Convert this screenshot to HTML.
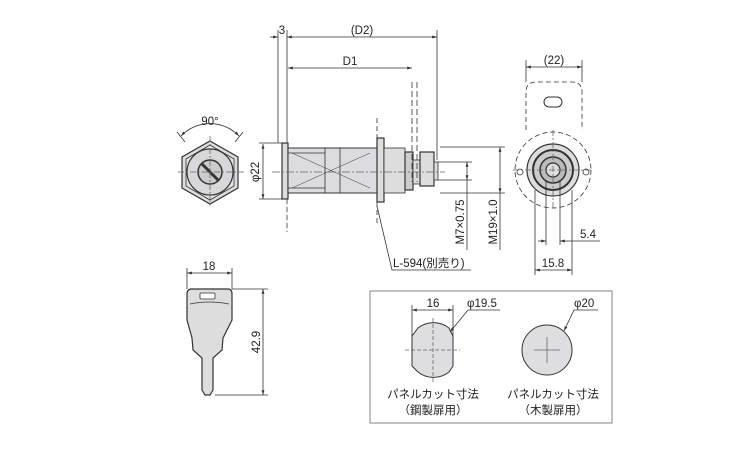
<!DOCTYPE html>
<html><head><meta charset="utf-8"><style>
html,body{margin:0;padding:0;background:#fff;}
svg{display:block;}
text{font-family:"Liberation Sans","Noto Sans CJK JP",sans-serif;fill:#222;}
</style></head><body>
<svg width="750" height="450" viewBox="0 0 750 450" xmlns="http://www.w3.org/2000/svg">
<defs>
<marker id="a" viewBox="0 0 10 10" refX="10" refY="5" markerWidth="6" markerHeight="6" orient="auto-start-reverse"><path d="M0,2 L10,5 L0,8 z" fill="#333"/></marker>
</defs>
<g stroke="#333" stroke-width="0.8" fill="none">
<!-- front hex view -->
<polygon points="210,141 238,157 238,188 210,204 182,188 182,157" fill="#ddd" stroke="#333" stroke-width="1.2"/>
<polygon points="210,145 234,159 234,186 210,200 186,186 186,159" fill="#e4e4e8"/>
<circle cx="210" cy="172" r="23" fill="#d8d8dc" stroke-width="1.2"/>
<circle cx="210" cy="172" r="12" fill="#ccc" stroke-width="1.5"/>
<line x1="202" y1="164" x2="218" y2="180" stroke-width="3"/>
<line x1="178" y1="172" x2="244" y2="172" stroke-dasharray="6,2,2,2" stroke="#666"/>
<line x1="210" y1="136" x2="210" y2="208" stroke-dasharray="6,2,2,2" stroke="#666"/>
<path d="M181,136 A40,40 0 0 1 239,136" marker-start="url(#a)" marker-end="url(#a)"/>
<line x1="177" y1="132" x2="185" y2="142"/><line x1="243" y1="132" x2="235" y2="142"/>

<!-- side view -->
<rect x="282" y="143" width="6" height="56" fill="#ddd" stroke-width="1.2"/>
<rect x="288" y="148" width="89" height="45" fill="#dcdce0" stroke-width="1"/>
<line x1="288" y1="153" x2="325" y2="153"/><line x1="288" y1="188" x2="325" y2="188"/>
<line x1="325" y1="148" x2="325" y2="193"/><line x1="340" y1="148" x2="340" y2="193"/>
<line x1="292" y1="153" x2="370" y2="188" stroke-width="0.5"/><line x1="292" y1="188" x2="370" y2="153" stroke-width="0.5"/>
<rect x="377" y="138" width="7" height="64" fill="#ddd" stroke-width="1.2"/>
<rect x="384" y="148" width="21" height="45" fill="#ddd"/>
<rect x="405" y="152" width="8" height="38" fill="#ccc" stroke-width="1.2"/>
<rect x="413" y="160" width="7" height="24" fill="#ddd"/>
<rect x="420" y="152" width="14" height="34" fill="#ddd" stroke-width="1.2"/>
<rect x="434" y="162" width="4" height="18" fill="#ddd"/>
<line x1="272" y1="172" x2="445" y2="172" stroke-dasharray="8,2,2,2" stroke="#666"/>
<line x1="412" y1="82" x2="412" y2="182" stroke-dasharray="6,3"/>
<line x1="417" y1="82" x2="417" y2="182" stroke-dasharray="6,3"/>
<line x1="377" y1="118" x2="377" y2="138" stroke-dasharray="5,3"/>
<line x1="377" y1="202" x2="377" y2="225" stroke-dasharray="5,3"/>
<line x1="287" y1="199" x2="287" y2="232" stroke-dasharray="5,3"/>
<!-- dims side -->
<line x1="278" y1="30" x2="278" y2="143"/><line x1="287" y1="30" x2="287" y2="143"/>
<line x1="437" y1="30" x2="437" y2="160"/>
<line x1="270" y1="37" x2="278" y2="37" marker-end="url(#a)"/>
<line x1="287" y1="37" x2="437" y2="37" marker-start="url(#a)" marker-end="url(#a)"/>
<line x1="288" y1="68" x2="412" y2="68" marker-start="url(#a)" marker-end="url(#a)"/>
<line x1="263" y1="144" x2="263" y2="199" marker-start="url(#a)" marker-end="url(#a)"/>
<line x1="259" y1="143" x2="282" y2="143"/><line x1="259" y1="199" x2="282" y2="199"/>
<line x1="438" y1="162" x2="472" y2="162"/><line x1="438" y1="180" x2="472" y2="180"/>
<line x1="467" y1="162" x2="467" y2="180" marker-start="url(#a)" marker-end="url(#a)"/>
<line x1="467" y1="180" x2="467" y2="250"/>
<line x1="440" y1="147" x2="505" y2="147"/><line x1="440" y1="193" x2="505" y2="193"/>
<line x1="500" y1="147" x2="500" y2="193" marker-start="url(#a)" marker-end="url(#a)"/>
<line x1="500" y1="193" x2="500" y2="250"/>
<polyline points="377,206 392,270 471,270"/>

<!-- right view -->
<path d="M526,130 L526,92 Q526,82 536,82 L572,82 Q582,82 582,92 L582,130" stroke-dasharray="5,3"/>
<rect x="544" y="97" width="18" height="10" rx="5" stroke-width="1"/>
<circle cx="553" cy="170" r="38" stroke-dasharray="5,3"/>
<circle cx="520" cy="172" r="3"/><circle cx="586" cy="172" r="3"/>
<circle cx="553" cy="170" r="26" fill="#ddd" stroke-width="1.2"/>
<circle cx="553" cy="170" r="20" fill="#ccc" stroke-width="2"/>
<circle cx="553" cy="170" r="13" fill="#bbb" stroke-width="1.5"/>
<circle cx="553" cy="170" r="7" fill="#ddd" stroke-width="1.2"/>
<line x1="513" y1="170" x2="593" y2="170" stroke-dasharray="6,2,2,2" stroke="#666"/>
<line x1="553" y1="130" x2="553" y2="210" stroke-dasharray="6,2,2,2" stroke="#666"/>
<line x1="526" y1="60" x2="526" y2="82"/><line x1="582" y1="60" x2="582" y2="82"/>
<line x1="526" y1="67" x2="582" y2="67" marker-start="url(#a)" marker-end="url(#a)"/>
<line x1="546" y1="180" x2="546" y2="245"/><line x1="560" y1="180" x2="560" y2="245"/>
<line x1="535" y1="190" x2="535" y2="275"/><line x1="572" y1="190" x2="572" y2="275"/>
<line x1="538" y1="241" x2="546" y2="241" marker-end="url(#a)"/>
<line x1="560" y1="241" x2="600" y2="241" marker-start="url(#a)"/>
<line x1="535" y1="270" x2="572" y2="270" marker-start="url(#a)" marker-end="url(#a)"/>

<!-- key -->
<path d="M190,289 L228,289 Q232,289 232,294 L232,320 L223,338 L222,350 L213,358 L213,390 L210,395 L205,395 L202,390 L202,358 L193,350 L192,338 L187,320 L187,294 Q187,289 192,289 Z" fill="#ddd" stroke-width="1.2"/>
<path d="M190,304 Q209,300 229,304" />
<rect x="200" y="293" width="15" height="6" rx="1" fill="#fff"/>
<line x1="187" y1="268" x2="187" y2="289"/><line x1="232" y1="268" x2="232" y2="289"/>
<line x1="187" y1="273" x2="232" y2="273" marker-start="url(#a)" marker-end="url(#a)"/>
<line x1="232" y1="289" x2="268" y2="289"/><line x1="215" y1="395" x2="268" y2="395"/>
<line x1="263" y1="289" x2="263" y2="395" marker-start="url(#a)" marker-end="url(#a)"/>

<!-- panel box -->
<rect x="370" y="291" width="242" height="132" stroke="#666"/>
<path d="M418,328 A25,25 0 0 1 449,328 L453,336 L453,366 L449,372 A25,25 0 0 1 418,372 L412,366 L412,336 Z" fill="#dedee2" stroke-width="1"/>
<line x1="433" y1="318" x2="433" y2="382" stroke-dasharray="4,2" stroke="#666"/>
<line x1="405" y1="350" x2="460" y2="350" stroke-dasharray="4,2" stroke="#666"/>
<line x1="412" y1="305" x2="412" y2="336"/><line x1="453" y1="305" x2="453" y2="336"/>
<line x1="412" y1="310" x2="453" y2="310" marker-start="url(#a)" marker-end="url(#a)"/>
<polyline points="500,310 468,310 450,332" marker-end="url(#a)"/>
<circle cx="547" cy="350" r="25" fill="#dedee2" stroke-width="1"/>
<line x1="547" y1="337" x2="547" y2="363" stroke="#666"/>
<line x1="534" y1="350" x2="560" y2="350" stroke="#666"/>
<polyline points="598,310 574,310 564,331" marker-end="url(#a)"/>
</g>
<g font-size="11.5">
<text x="282" y="34" text-anchor="middle">3</text>
<text x="362" y="34" text-anchor="middle">(D2)</text>
<text x="350" y="65" text-anchor="middle">D1</text>
<text x="210" y="125" text-anchor="middle">90°</text>
<text transform="translate(259,172) rotate(-90)" text-anchor="middle">φ22</text>
<text transform="translate(464,222) rotate(-90)" text-anchor="middle">M7×0.75</text>
<text transform="translate(497,222) rotate(-90)" text-anchor="middle">M19×1.0</text>
<text x="393" y="267">L-594(別売り)</text>
<text x="554" y="64" text-anchor="middle">(22)</text>
<text x="588" y="238" text-anchor="middle">5.4</text>
<text x="553" y="267" text-anchor="middle">15.8</text>
<text x="209" y="270" text-anchor="middle">18</text>
<text transform="translate(260,342) rotate(-90)" text-anchor="middle">42.9</text>
<text x="433" y="307" text-anchor="middle">16</text>
<text x="467" y="307">φ19.5</text>
<text x="574" y="307">φ20</text>
<text x="433" y="398" text-anchor="middle">パネルカット寸法</text>
<text x="433" y="414" text-anchor="middle">（鋼製扉用）</text>
<text x="553" y="398" text-anchor="middle">パネルカット寸法</text>
<text x="553" y="414" text-anchor="middle">（木製扉用）</text>
</g>
</svg>
</body></html>
